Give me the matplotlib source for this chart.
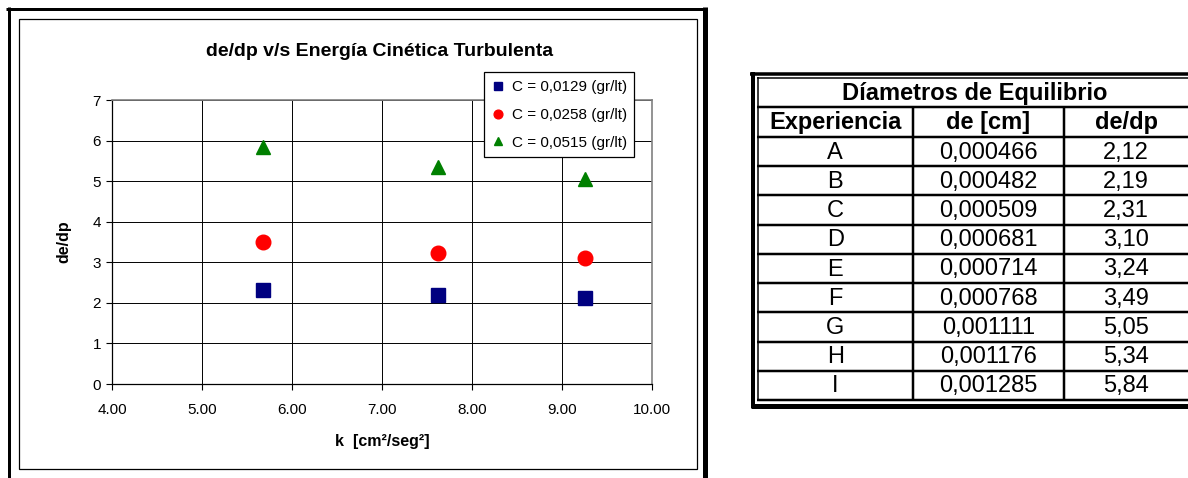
import matplotlib
matplotlib.use("Agg")
import matplotlib.pyplot as plt
from matplotlib.lines import Line2D
from matplotlib.patches import Rectangle

plt.rcParams['font.family'] = ['Liberation Sans', 'DejaVu Sans']

# ---- data ----
k_values = [5.68, 7.62, 9.25]
series_labels = ["C = 0,0129 (gr/lt)", "C = 0,0258 (gr/lt)", "C = 0,0515 (gr/lt)"]
series_c1 = [2.31, 2.19, 2.12]
series_c2 = [3.49, 3.24, 3.10]
series_c3 = [5.84, 5.34, 5.05]
x_ticks = [4, 5, 6, 7, 8, 9, 10]
y_ticks = [0, 1, 2, 3, 4, 5, 6, 7]

table_title = "Díametros de Equilibrio"
table_header = ["Experiencia", "de [cm]", "de/dp"]
table_exp = ["A", "B", "C", "D", "E", "F", "G", "H", "I"]
table_de = ["0,000466", "0,000482", "0,000509", "0,000681", "0,000714",
            "0,000768", "0,001111", "0,001176", "0,001285"]
table_ratio = ["2,12", "2,19", "2,31", "3,10", "3,24", "3,49", "5,05", "5,34", "5,84"]

W, H = 1188, 478
fig = plt.figure(figsize=(W / 100, H / 100), dpi=100)

def fx(x):
    return x / W

def fy(y):
    return 1 - y / H

def hline(x0, x1, y, lw, color='black'):
    fig.add_artist(Line2D([fx(x0), fx(x1)], [fy(y), fy(y)], lw=lw * 0.72,
                          color=color, transform=fig.transFigure, solid_capstyle='butt'))

def vline(x, y0, y1, lw, color='black'):
    fig.add_artist(Line2D([fx(x), fx(x)], [fy(y0), fy(y1)], lw=lw * 0.72,
                          color=color, transform=fig.transFigure, solid_capstyle='butt'))

# ---- chart frame ----
hline(6, 707, 8.5, 3)
vline(8.5, 7, 478, 3)
vline(704.5, 7, 478, 5)
fig.add_artist(Rectangle((fx(19), fy(469)), fx(697) - fx(19), fy(19) - fy(469),
                         fill=False, lw=0.9, edgecolor='black', transform=fig.transFigure))

# ---- plot ----
ax = fig.add_axes([fx(112), fy(384), fx(652) - fx(112), fy(100) - fy(384)])
ax.set_xlim(4, 10)
ax.set_ylim(0, 7)
ax.set_xticks(x_ticks)
ax.set_xticklabels([f"{v:.2f}" for v in x_ticks])
ax.set_yticks(y_ticks)
ax.grid(True, color='black', lw=0.7)
ax.set_axisbelow(True)
for s in ['top', 'right']:
    ax.spines[s].set_color('#808080')
    ax.spines[s].set_linewidth(1.2)
for s in ['left', 'bottom']:
    ax.spines[s].set_color('black')
    ax.spines[s].set_linewidth(0.9)
ax.tick_params(direction='out', length=4, width=0.8, labelsize=11, pad=4)
ax.tick_params(axis='x', pad=10)

ax.plot(k_values, series_c1, ls='none', marker='s', ms=9.5, color='#000080', label=series_labels[0])
ax.plot(k_values, series_c2, ls='none', marker='o', ms=10.5, color='#FF0000', label=series_labels[1])
ax.plot(k_values, series_c3, ls='none', marker='^', ms=10, color='#008000', label=series_labels[2])

ax.set_xlabel("k  [cm²/seg²]", fontsize=11.5, fontweight='bold', labelpad=12)
ax.set_ylabel("de/dp", fontsize=11.5, fontweight='bold', labelpad=15)

leg = ax.legend(loc='upper left', bbox_to_anchor=(fx(484), fy(72.5)),
                bbox_transform=fig.transFigure, fontsize=11, markerscale=0.6,
                frameon=True, fancybox=False, edgecolor='black', framealpha=1,
                handlelength=0.8, handletextpad=0.5, labelspacing=0.9,
                borderpad=0.5, borderaxespad=0)
leg.get_frame().set_linewidth(0.9)

fig.text(fx(380), fy(51), "de/dp v/s Energía Cinética Turbulenta", fontsize=14,
         fontweight='bold', ha='center', va='center')

# ---- table ----
col_x = [757.5, 913, 1064, 1192]
title_top, header_top, body_top, bottom = 77, 107, 137, 400
n = len(table_exp)
rh = (bottom - body_top) / n

# outer double border
hline(750, 1192, 73.5, 3.5)
vline(753, 72, 408, 4)
hline(751, 1192, 405.5, 5)
# inner border
hline(757, 1192, 77.5, 1.5)
vline(757.5, 77, 400.5, 1.5)
hline(757, 1192, 400, 2.5)
# grid
hline(757, 1192, header_top, 2.5)
hline(757, 1192, body_top, 2.5)
for i in range(1, n):
    hline(757, 1192, body_top + i * rh, 2.5)
for cx in col_x[1:3]:
    vline(cx, header_top, bottom, 2.5)

fs = 17
fig.text(fx(975), fy((title_top + header_top) / 2 + 1.5), table_title,
         fontsize=fs, fontweight='bold', ha='center', va='center')
centers = [(757.5 + 913) / 2, (913 + 1064) / 2, 1126]
for c, txt in zip(centers, table_header):
    fig.text(fx(c), fy((header_top + body_top) / 2 + 1), txt, fontsize=fs,
             fontweight='bold', ha='center', va='center')
for i in range(n):
    yc = body_top + (i + 0.5) * rh + 1
    for c, txt in zip(centers, [table_exp[i], table_de[i], table_ratio[i]]):
        fig.text(fx(c), fy(yc), txt, fontsize=fs, ha='center', va='center')

fig.savefig("out.png", dpi=100)
